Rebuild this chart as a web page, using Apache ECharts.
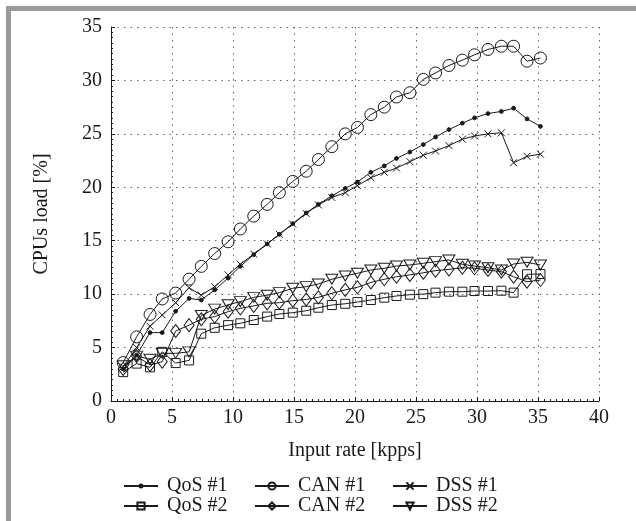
<!DOCTYPE html>
<html lang="en">

<head>
    <meta charset="UTF-8">
    <title>CPUs load</title>
    <script type="text/javascript" src="https://cdn.jsdelivr.net/npm/echarts@6/dist/echarts.min.js"></script>
    <style>
        html, body { margin: 0; padding: 0; background: #fff; }
    </style>
</head>

<body>
    <div id="container" style="width: 636px; height: 521px"></div>
</body>
<script type="text/javascript">
    // input rate [kpps]
    var rates = [1.0, 2.1, 3.2, 4.2, 5.3, 6.4, 7.4, 8.5, 9.6, 10.6, 11.7, 12.8, 13.8, 14.9, 16.0, 17.0,
        18.1, 19.2, 20.2, 21.3, 22.4, 23.4, 24.5, 25.6, 26.6, 27.7, 28.8, 29.8, 30.9, 32.0, 33.0, 34.1, 35.2];

    // CPUs load [%]
    var qos1 = [3.0, 4.3, 6.4, 6.4, 8.4, 9.6, 9.45, 10.4, 11.5, 12.6, 13.7, 14.7, 15.6, 16.6, 17.6, 18.4,
        19.2, 19.9, 20.5, 21.4, 22.0, 22.7, 23.3, 24.0, 24.7, 25.4, 26.0, 26.5, 26.9, 27.1, 27.4, 26.4, 25.7];
    var can1 = [3.6, 6.0, 8.1, 9.55, 10.1, 11.4, 12.6, 13.8, 14.9, 16.1, 17.3, 18.4, 19.5, 20.55, 21.5, 22.6,
        23.8, 25.0, 25.6, 26.8, 27.5, 28.45, 28.85, 30.1, 30.7, 31.4, 31.9, 32.4, 32.9, 33.2, 33.2, 31.8, 32.1];
    var dss1 = [3.2, 5.0, 7.0, 8.05, 9.2, 10.6, 9.9, 10.7, 11.8, 12.8, 13.75, 14.7, 15.6, 16.55, 17.55, 18.35,
        19.05, 19.5, 20.15, 20.9, 21.4, 21.8, 22.4, 23.0, 23.4, 23.9, 24.5, 24.8, 25.0, 25.1, 22.3, 22.9, 23.1];
    var qos2 = [2.7, 3.5, 3.15, 4.6, 3.55, 3.8, 6.3, 6.85, 7.1, 7.27, 7.58, 7.9, 8.14, 8.27, 8.45, 8.73,
        8.98, 9.1, 9.26, 9.45, 9.67, 9.83, 9.95, 10.0, 10.14, 10.23, 10.23, 10.29, 10.29, 10.32, 10.14, 11.86, 11.88];
    var can2 = [3.0, 4.2, 3.37, 3.68, 6.55, 7.1, 7.65, 7.9, 8.36, 8.67, 8.9, 9.14, 9.2, 9.39, 9.5, 9.7,
        10.08, 10.4, 10.64, 11.1, 11.39, 11.63, 11.8, 12.0, 12.2, 12.32, 12.47, 12.42, 12.26, 12.1, 11.63, 11.16, 11.32];
    var dss2 = [3.3, 4.2, 3.9, 4.46, 4.46, 4.6, 8.0, 8.6, 9.0, 9.3, 9.7, 9.9, 10.14, 10.55, 10.7, 10.95,
        11.39, 11.7, 11.95, 12.26, 12.42, 12.63, 12.73, 12.89, 13.04, 13.2, 12.79, 12.63, 12.47, 12.26, 12.82, 12.98, 12.73];

    var seriesNames = ['QoS #1', 'CAN #1', 'DSS #1', 'QoS #2', 'CAN #2', 'DSS #2'];
    var xTicks = [0, 5, 10, 15, 20, 25, 30, 35, 40];
    var yTicks = [0, 5, 10, 15, 20, 25, 30, 35];

    var font = 'Liberation Serif';
    var ink = '#1a1a1a';

    // small dot centred in an empty 10x10 box, so it stays small in the legend too
    var dotSymbol = 'path://M0,0M10,10M2.9,5A2.1,2.1 0 1,0 7.1,5A2.1,2.1 0 1,0 2.9,5Z';
    var crossSymbol = 'path://M0,0L10,10M10,0L0,10';
    var downTriangle = 'path://M0,0L10,0L5,9Z';

    function pairs(ys) {
        return ys.map(function (y, i) { return [rates[i], y]; });
    }

    function line(name, ys, symbol, size, fill) {
        return {
            name: name,
            type: 'line',
            data: pairs(ys),
            symbol: symbol,
            symbolSize: size,
            showAllSymbol: true,
            animation: false,
            lineStyle: { color: ink, width: 1 },
            itemStyle: { color: fill || 'rgba(0,0,0,0)', borderColor: ink, borderWidth: 1 },
            emphasis: { disabled: true }
        };
    }

    var dom = document.getElementById('container');
    var myChart = echarts.init(dom, null, { renderer: 'canvas' });

    // one legend per column, two rows each
    var legendBase = {
        orient: 'vertical',
        top: 476,
        padding: 0,
        itemWidth: 34,
        itemHeight: 9,
        itemGap: 0,
        selectedMode: false,
        textStyle: { fontFamily: font, fontSize: 20, color: ink, lineHeight: 18, padding: [0, 0, 0, 4] }
    };

    var option = {
        backgroundColor: '#fff',
        textStyle: { fontFamily: font },
        graphic: [
            { type: 'rect', shape: { x: 6, y: 6, width: 630, height: 5 }, style: { fill: '#9a9a9a' }, silent: true },
            { type: 'rect', shape: { x: 6, y: 6, width: 5, height: 515 }, style: { fill: '#9a9a9a' }, silent: true }
        ],
        grid: { left: 111, right: 37, top: 27, bottom: 120 },
        legend: [
            Object.assign({}, legendBase, { left: 123, data: [seriesNames[0], seriesNames[3]] }),
            Object.assign({}, legendBase, { left: 254, data: [seriesNames[1], seriesNames[4]] }),
            Object.assign({}, legendBase, { left: 392, data: [seriesNames[2], seriesNames[5]] })
        ],
        xAxis: {
            type: 'value',
            min: xTicks[0],
            max: xTicks[xTicks.length - 1],
            interval: 5,
            name: 'Input rate [kpps]',
            nameLocation: 'middle',
            nameGap: 40,
            nameTextStyle: { fontFamily: font, fontSize: 20, color: ink },
            axisLine: { show: true, onZero: false, lineStyle: { color: ink, width: 1 } },
            axisTick: { show: true, inside: true, length: 4, lineStyle: { color: ink } },
            minorTick: { show: true, splitNumber: 10, length: 2, lineStyle: { color: ink } },
            axisLabel: { fontFamily: font, fontSize: 20, color: ink, margin: 7 },
            splitLine: { show: true, lineStyle: { color: '#666', width: 1, type: [1.5, 5] } }
        },
        yAxis: {
            type: 'value',
            min: yTicks[0],
            max: yTicks[yTicks.length - 1],
            interval: 5,
            name: 'CPUs load [%]',
            nameLocation: 'middle',
            nameGap: 59,
            nameTextStyle: { fontFamily: font, fontSize: 20, color: ink },
            axisLine: { show: true, lineStyle: { color: ink, width: 1 } },
            axisTick: { show: true, inside: true, length: 4, lineStyle: { color: ink } },
            minorTick: { show: true, splitNumber: 10, length: 2, lineStyle: { color: ink } },
            axisLabel: { fontFamily: font, fontSize: 20, color: ink, margin: 9 },
            splitLine: { show: true, lineStyle: { color: '#666', width: 1, type: [1.5, 5] } }
        },
        series: [
            line(seriesNames[0], qos1, dotSymbol, 9, ink),
            line(seriesNames[1], can1, 'circle', 12),
            line(seriesNames[2], dss1, crossSymbol, 7),
            line(seriesNames[3], qos2, 'rect', 9),
            line(seriesNames[4], can2, 'diamond', [10, 13]),
            line(seriesNames[5], dss2, downTriangle, [12, 10])
        ]
    };

    myChart.setOption(option);
    window.addEventListener('resize', myChart.resize);
</script>

</html>
